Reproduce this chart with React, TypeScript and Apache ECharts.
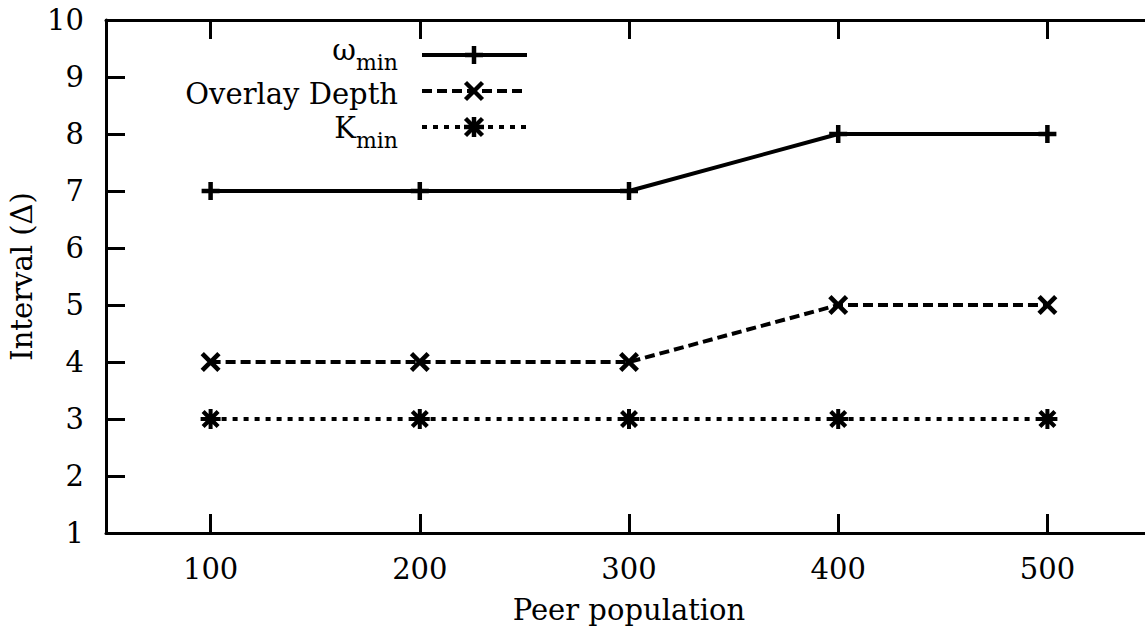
import React, { useEffect, useRef } from "react";
import * as echarts from "echarts";

const populations = [100, 200, 300, 400, 500];
const omegaMin = [7, 7, 7, 8, 8];
const overlayDepth = [4, 4, 4, 5, 5];
const kMin = [3, 3, 3, 3, 3];
const xTicks = [100, 200, 300, 400, 500];

const FONT = "DejaVu Serif";
const FS = 29;
const FS_SUB = 22;

const PLUS = "path://M0,6.75H18V11.25H0Z M6.75,0H11.25V18H6.75Z";
const CROSS =
  "path://M0,3.3L3.3,0L20,16.7L16.7,20Z M16.7,0L20,3.3L3.3,20L0,16.7Z";
const STAR =
  "path://M0,8H20V12H0Z M8,0H12V20H8Z M1,4L4,1L19,16L16,19Z M16,1L19,4L4,19L1,16Z";

function pairs(ys: number[]) {
  return populations.map((x, i) => [x, ys[i]]);
}

export default function App() {
  const ref = useRef<HTMLDivElement>(null);
  useEffect(() => {
    if (!ref.current) return;
    const chart = echarts.init(ref.current, undefined, { renderer: "svg" });
    const axisCommon = {
      type: "value" as const,
      min: 50,
      max: 550,
      axisLine: { show: true, lineStyle: { color: "#000", width: 3 } },
      axisTick: {
        show: true,
        inside: true,
        length: 19,
        lineStyle: { color: "#000", width: 3 },
        customValues: xTicks,
      },
      splitLine: { show: false },
    };
    const lx1 = 422,
      lx2 = 527,
      mx = 474;
    const rows = [55, 91, 127];
    const seg = (x1: number, y1: number, x2: number, y2: number, w = 4.5) => ({
      type: "line",
      shape: { x1, y1, x2, y2 },
      style: { stroke: "#000", lineWidth: w },
    });
    const plusMark = (cx: number, cy: number, h = 9) => [
      seg(cx - h, cy, cx + h, cy),
      seg(cx, cy - h, cx, cy + h),
    ];
    const crossMark = (cx: number, cy: number, h = 8.5) => [
      seg(cx - h, cy - h, cx + h, cy + h),
      seg(cx + h, cy - h, cx - h, cy + h),
    ];
    const txt = (text: string, x: number, y: number, size: number) => ({
      type: "text",
      x,
      y,
      style: {
        text,
        fill: "#000",
        fontSize: size,
        fontFamily: FONT,
        align: "right",
        verticalAlign: "middle",
      },
    });
    chart.setOption({
      animation: false,
      backgroundColor: "#fff",
      textStyle: { fontFamily: FONT },
      grid: {
        left: 106,
        top: 20,
        width: 1046,
        height: 513,
        containLabel: false,
        outerBoundsMode: "none",
      },
      xAxis: [
        {
          ...axisCommon,
          position: "bottom",
          name: "Peer population",
          nameLocation: "middle",
          nameGap: 62,
          nameTextStyle: { fontSize: FS, fontFamily: FONT, color: "#000" },
          axisLabel: {
            show: true,
            customValues: xTicks,
            fontSize: FS,
            fontFamily: FONT,
            color: "#000",
            margin: 21,
          },
        },
        {
          ...axisCommon,
          position: "top",
          axisLabel: { show: false },
        },
      ],
      yAxis: {
        type: "value",
        min: 1,
        max: 10,
        interval: 1,
        name: "Interval (Δ)",
        nameLocation: "middle",
        nameGap: 58,
        nameTextStyle: { fontSize: FS, fontFamily: FONT, color: "#000" },
        axisLine: { show: true, lineStyle: { color: "#000", width: 3 } },
        axisTick: {
          show: true,
          inside: true,
          length: 19,
          lineStyle: { color: "#000", width: 3 },
        },
        axisLabel: {
          fontSize: FS,
          fontFamily: FONT,
          color: "#000",
          margin: 22,
        },
        splitLine: { show: false },
      },
      series: [
        {
          name: "ω_min",
          type: "line",
          data: pairs(omegaMin),
          symbol: PLUS,
          symbolSize: 18,
          itemStyle: { color: "#000", borderWidth: 0 },
          lineStyle: { color: "#000", width: 4, type: "solid" },
        },
        {
          name: "Overlay Depth",
          type: "line",
          data: pairs(overlayDepth),
          symbol: CROSS,
          symbolSize: 20,
          itemStyle: { color: "#000", borderWidth: 0 },
          lineStyle: { color: "#000", width: 4, type: [10, 5] },
        },
        {
          name: "K_min",
          type: "line",
          data: pairs(kMin),
          symbol: STAR,
          symbolSize: 20,
          itemStyle: { color: "#000", borderWidth: 0 },
          lineStyle: { color: "#000", width: 4, type: [5, 6] },
        },
      ],
      graphic: [
        txt("min", 398, 62, FS_SUB),
        txt("ω", 356, 50, FS),
        txt("Overlay Depth", 398, 94, FS),
        txt("min", 398, 140, FS_SUB),
        txt("K", 356, 128, FS),
        {
          type: "line",
          shape: { x1: lx1, y1: rows[0], x2: lx2, y2: rows[0] },
          style: { stroke: "#000", lineWidth: 4 },
        },
        {
          type: "line",
          shape: { x1: lx1, y1: rows[1], x2: lx2, y2: rows[1] },
          style: { stroke: "#000", lineWidth: 4, lineDash: [10, 5] },
        },
        {
          type: "line",
          shape: { x1: lx1, y1: rows[2], x2: lx2, y2: rows[2] },
          style: { stroke: "#000", lineWidth: 4, lineDash: [5, 6] },
        },
        ...plusMark(mx, rows[0]),
        ...crossMark(mx, rows[1]),
        ...plusMark(mx, rows[2], 10),
        ...crossMark(mx, rows[2]),
      ],
    });
    return () => chart.dispose();
  }, []);
  return (
    <div
      ref={ref}
      style={{ position: "absolute", left: 0, top: 0, width: 1145, height: 636 }}
    />
  );
}
